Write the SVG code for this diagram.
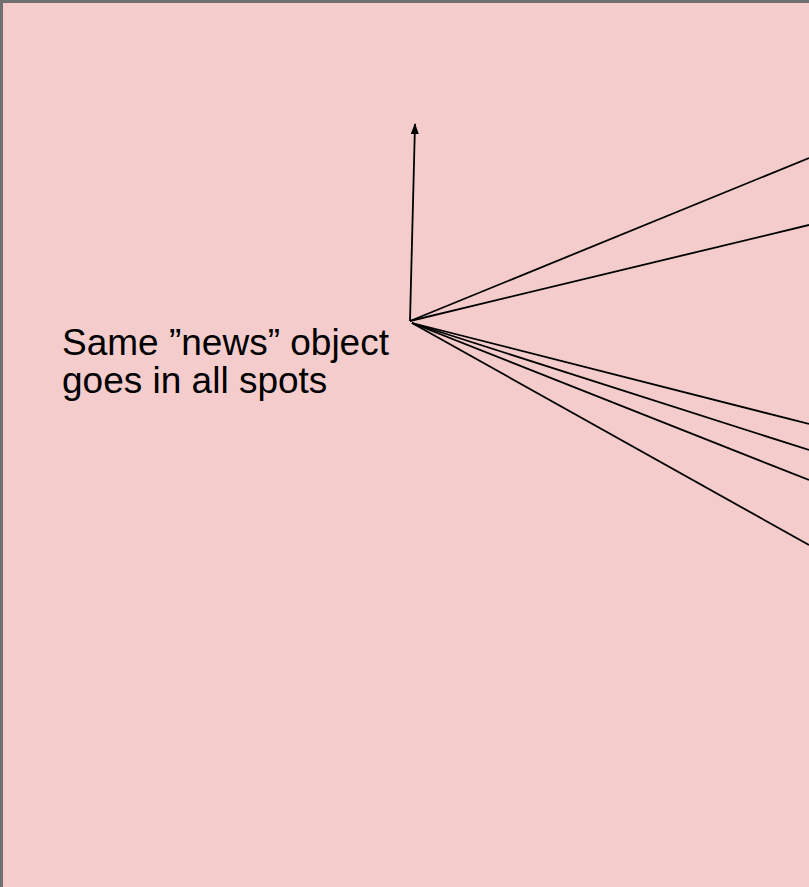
<svg xmlns="http://www.w3.org/2000/svg" width="809" height="887" viewBox="0 0 809 887">
  <defs>
    <style>
      .bg { fill: #f4cccc; stroke: #707070; stroke-width: 3; }
      .conn { stroke: #000000; stroke-width: 1.8; fill: none; }
      .label { font-family: "Liberation Sans", Arial, sans-serif; font-size: 37px; fill: #000000; }
    </style>
    <marker id="arrow" viewBox="0 0 11 8" refX="10" refY="4" markerWidth="11" markerHeight="8" orient="auto" markerUnits="userSpaceOnUse">
      <path d="M0,0 L11,4 L0,8 Z" fill="#000000"/>
    </marker>
  </defs>
  <g id="background">
    <rect class="bg" x="1.5" y="1.5" width="830" height="910"/>
  </g>
  <g id="connectors">
    <line class="conn" x1="410" y1="321" x2="415" y2="124" marker-end="url(#arrow)"/>
    <line class="conn" x1="410" y1="321" x2="809" y2="158"/>
    <line class="conn" x1="410" y1="321" x2="809" y2="225"/>
    <line class="conn" x1="412" y1="323" x2="809" y2="424"/>
    <line class="conn" x1="412" y1="323" x2="809" y2="450"/>
    <line class="conn" x1="412" y1="323" x2="809" y2="480"/>
    <line class="conn" x1="412" y1="323" x2="809" y2="545"/>
  </g>
  <g id="note">
    <text class="label" x="62" y="355">Same ”news” object</text>
    <text class="label" x="62" y="393">goes in all spots</text>
  </g>
</svg>
